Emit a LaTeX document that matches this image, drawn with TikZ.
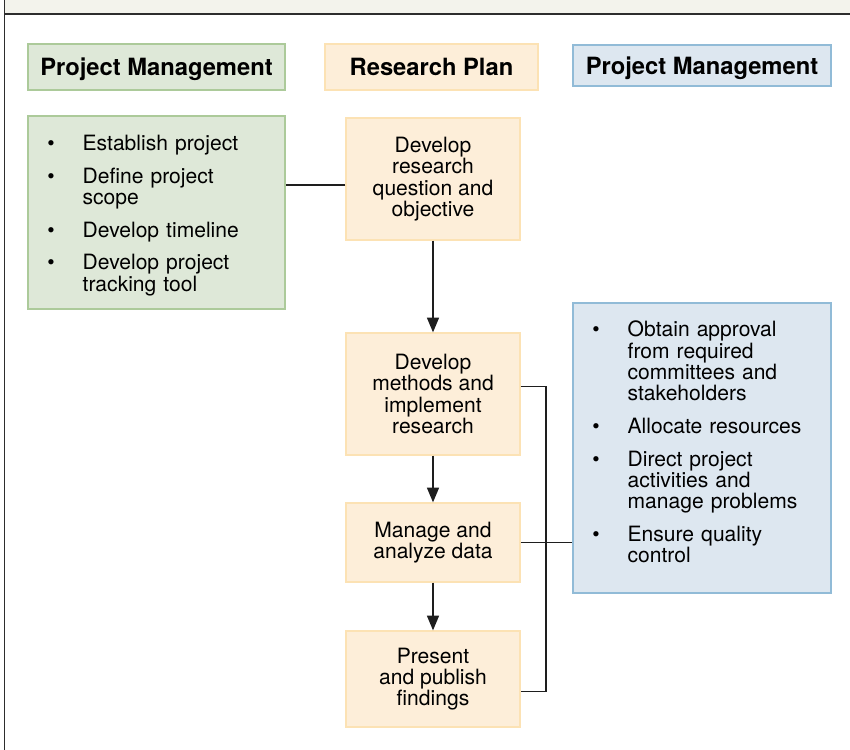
\documentclass[tikz,border=0pt]{standalone}
\usepackage{fontspec}
\setmainfont{TeX Gyre Heros}
\usetikzlibrary{arrows.meta}

\definecolor{bandfill}{RGB}{243,243,236}
\definecolor{framegray}{RGB}{45,45,45}
\definecolor{linegray}{RGB}{30,30,30}
\definecolor{pmgreen}{RGB}{222,232,216}
\definecolor{pmgreenedge}{RGB}{172,202,154}
\definecolor{planfill}{RGB}{253,238,217}
\definecolor{planedge}{RGB}{252,226,180}
\definecolor{pmblue}{RGB}{221,231,240}
\definecolor{pmblueedge}{RGB}{145,187,215}

\newenvironment{tasklist}{\begin{list}{\textbullet}{%
  \setlength{\leftmargin}{29pt}\setlength{\labelsep}{21pt}%
  \setlength{\labelwidth}{8pt}\setlength{\itemsep}{8.5pt}%
  \setlength{\parsep}{0pt}\setlength{\topsep}{0pt}\setlength{\partopsep}{0pt}}}%
  {\end{list}}

\begin{document}
\begin{tikzpicture}[x=0.75pt,y=0.75pt,yscale=-1,xscale=1,
  headbox/.style={draw,line width=1pt,minimum height=34.5pt,text height=12.8pt,text depth=0pt,font=\fontsize{17.8}{20}\selectfont\bfseries},
  stepbox/.style={draw=planedge,fill=planfill,line width=1pt,minimum width=130.5pt,align=center,font=\fontsize{15.8}{16}\selectfont},
  listbox/.style={draw,line width=1pt,inner xsep=12pt,font=\fontsize{15.8}{16}\selectfont},
  flow/.style={-{Triangle[length=11pt,width=9pt]},line width=1pt,color=linegray},
  link/.style={line width=1.1pt,color=linegray}]
\useasboundingbox (0,0) rectangle (850,750);
%Shape: Frame
\fill [bandfill] (5,0) rectangle (850,14);
\draw [framegray,line width=1.4pt] (4.5,0) -- (4.5,750) (4.5,14) -- (850,14);

%Headers
\node [headbox,draw=pmgreenedge,fill=pmgreen,minimum width=192.75pt] (pmleft) at (156.5,67) {Project Management};
\node [headbox,draw=planedge,fill=planfill,minimum width=159.75pt] (plan) at (431.5,67) {Research Plan};
\node [headbox,draw=pmblueedge,fill=pmblue,minimum width=193.5pt,minimum height=30.75pt] (pmright) at (702,65.5) {Project Management};

%Lists
\node [listbox,draw=pmgreenedge,fill=pmgreen,text width=168.75pt,minimum height=144.75pt] (setup) at (156.5,212.5) {%
\begin{tasklist}
\item Establish project
\item Define project\\scope
\item Develop timeline
\item Develop project\\tracking tool
\end{tasklist}};
\node [listbox,draw=pmblueedge,fill=pmblue,text width=169.5pt,minimum height=217.5pt] (oversee) at (702,448) {%
\begin{tasklist}
\item Obtain approval\\from required\\committees and\\stakeholders
\item Allocate resources
\item Direct project\\activities and\\manage problems
\item Ensure quality\\control
\end{tasklist}\par\hrule height 12.8pt width 0pt depth 0pt};

%Research steps
\node [stepbox,minimum height=91.5pt] (question) at (433,179) {Develop\\research\\question and\\objective};
\node [stepbox,minimum height=91.5pt] (methods) at (433,394) {Develop\\methods and\\implement\\research};
\node [stepbox,minimum height=59.25pt] (data) at (433,542.5) {Manage and\\analyze data};
\node [stepbox,minimum height=72pt] (publish) at (433,679) {Present\\and publish\\findings};
\coordinate (bus) at (546,0);

\draw [flow] (question) -- (methods);
\draw [flow] (methods) -- (data);
\draw [flow] (data) -- (publish);
\draw [link] ([yshift=4.5pt]question.west) -- ([yshift=4.5pt]question.west -| setup.east);
\draw [link] ([yshift=-5.5pt]methods.east) -- ([yshift=-5.5pt]methods.east -| bus) -- ([yshift=9.5pt]publish.east -| bus) -- ([yshift=9.5pt]publish.east);
\draw [link] (data.east) -- (data.east -| oversee.west);
\end{tikzpicture}
\end{document}
